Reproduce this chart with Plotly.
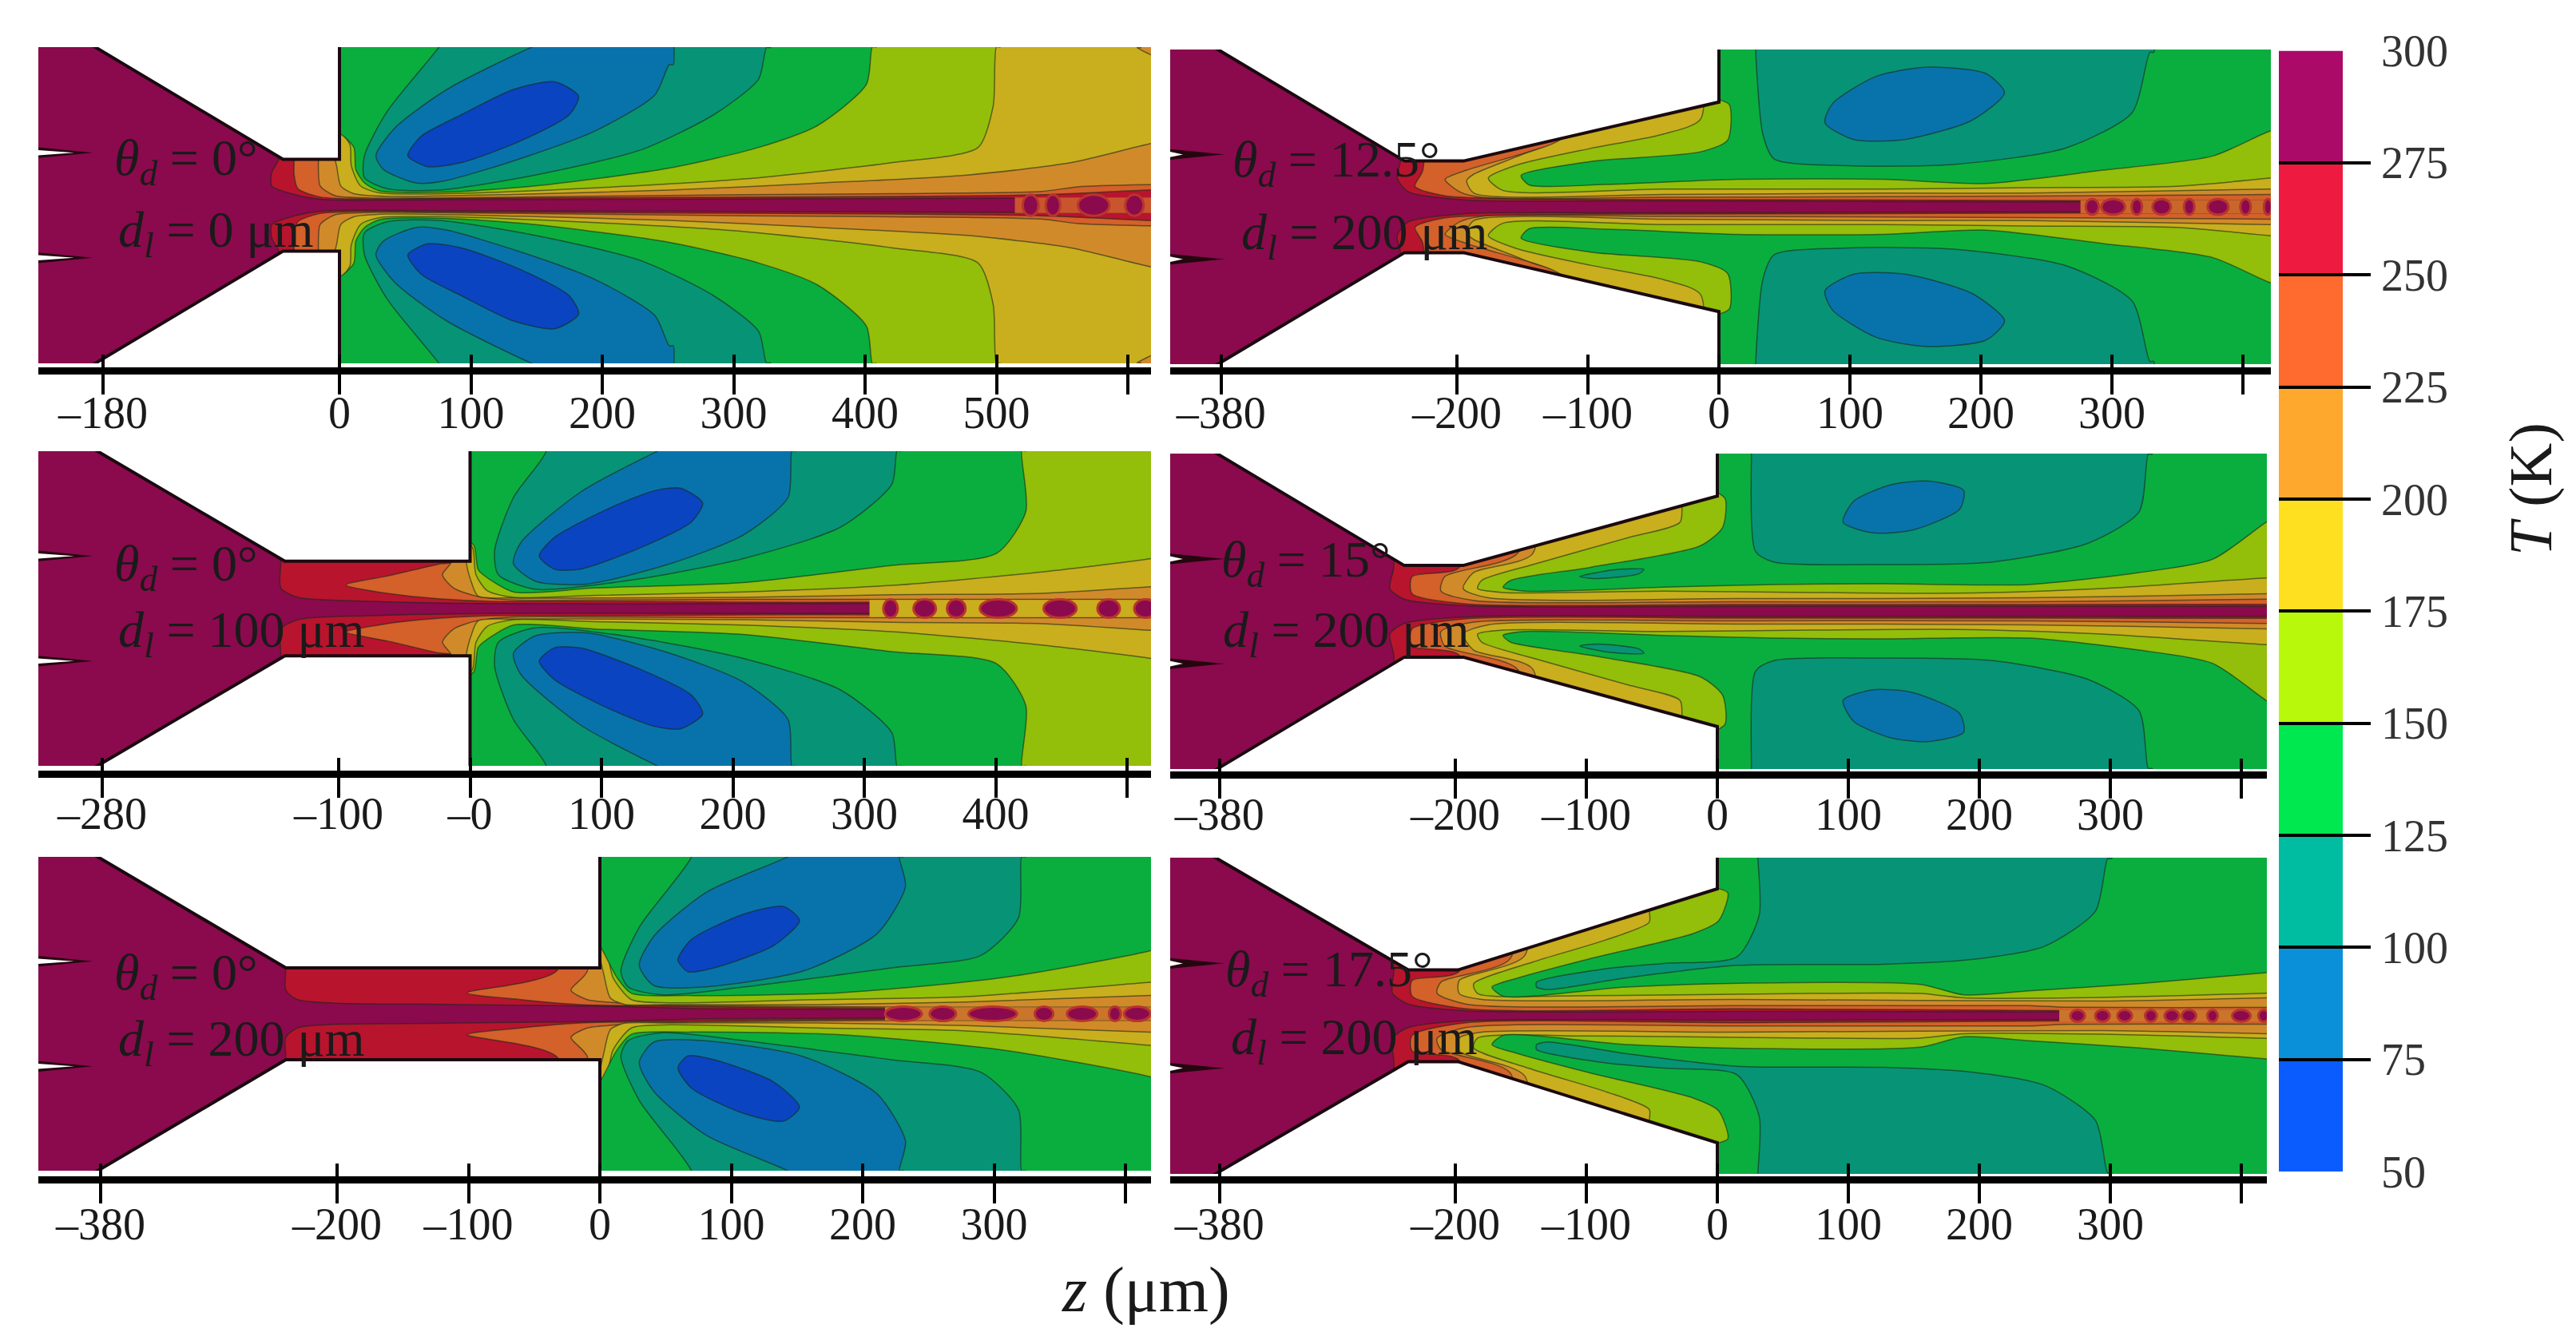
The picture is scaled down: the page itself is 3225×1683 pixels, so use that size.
#!/usr/bin/env python3
'''Temperature contours for six nozzle geometries, T (K) against z (um).'''

import plotly.graph_objects as go

W = 3225
H = 1683
SERIF = 'Liberation Serif'
PURPLE = '#8A0A4D'

T_LEVELS = [50, 75, 100, 125, 150, 175, 200, 225, 250, 275, 300]
BAR_COLORS = ['#0A5CFF', '#0A90D8', '#00BCA0', '#00E850', '#B8F80A',
              '#FFE020', '#FFA82E', '#FF6A2E', '#EE1A40', '#AB0A68']
# panels are shaded darker than the colour bar, hot to cold
BAND_COLORS = ['#B8142E', '#D4602A', '#D18A2A', '#C9AE1E', '#93BE0A',
               '#0AAE3F', '#079376', '#0873AB', '#0A44C0']

# each contour is (z, r) in um for the upper half, the lower half is its mirror
P1_WALL = [(-202, 130), (-43, 35), (0, 35), (0, 130)]
P1_275 = [(-46, 130), (-46, 35.6), (-51.5, 25), (-51.5, 14.7), (-35, 8.4), (-14, 4.5), (13.6, 3.8), (81.5, 4.2), (251, 4.6), (534, 5.5), (640, 5.5), (640, 130)]
P1_250 = [(-34.5, 130), (-34.5, 35.6), (-34.5, 23), (-31.7, 12.6), (-14.7, 6.3), (13.6, 4.8), (81.5, 5.2), (251, 5.9), (421, 6.7), (534, 8), (640, 12.6), (640, 130)]
P1_225 = [(-16, 130), (-16, 35.6), (-16, 25), (-14.7, 14.7), (-3.4, 7.3), (25, 5.5), (138, 6.3), (308, 8), (421, 8.8), (534, 10.5), (562, 14), (618, 15.7), (640, 16), (640, 130)]
P1_200 = [(-3.4, 130), (-3.4, 35.6), (-2, 29), (1, 14.7), (10.8, 8.8), (36, 6.7), (138, 8.4), (251, 11.5), (364, 16.8), (478, 23), (557, 32.5), (618, 47), (640, 50), (640, 100), (610, 120), (610, 130)]
P1_175 = [(-12, 130), (-12, 56), (1, 55), (8, 46), (9, 30), (16, 14.7), (30.5, 9.4), (81.5, 8.8), (194.7, 13.2), (308, 20), (421, 32.5), (486, 44), (497.5, 75.5), (503, 120.5), (503, 130)]
P1_150 = [(-9, 130), (-9, 56), (1, 54), (11, 44), (12.5, 27), (19, 17), (30.5, 10.9), (81.5, 10), (149, 14.7), (251, 28.3), (319, 44), (364, 60.8), (401, 92), (408.6, 120.5), (408.6, 130)]
P1_125 = [(81.5, 130), (75.8, 120.5), (36, 71), (19, 37.7), (19, 21), (36, 12.6), (75.8, 11.5), (149, 23), (229, 42), (285, 69), (319, 96), (328, 120), (328, 130)]
P1_100 = [(172, 130), (146.6, 120.5), (81.5, 88), (42, 58.7), (27.7, 37.7), (33.4, 27.3), (59, 16.8), (81.5, 18.9), (138, 35.6), (194.7, 56.6), (240, 83.9), (254, 107), (254, 130)]
P1_75 = [(164, 94), (182, 83), (175, 69), (138, 49), (93, 32.5), (67, 29.4), (52, 37.7), (62, 52.4), (93, 69), (132, 88), (164, 94)]
P1_GAP = (514, 6, '#C9552C')
P1_DROP_Z = [526, 543, 574, 605]
P1_DROP_D = [12, 11, 24, 14]

P2_WALL = [(-399, 130), (-240, 35), (-195, 35), (0, 80), (0, 130)]
P2_275 = [(-243, 130), (-243, 35.6), (-245.6, 22), (-237, 11.5), (-192.6, 5.2), (-70, 4.6), (276, 3.8), (440, 3.8), (440, 130)]
P2_250 = [(-226, 130), (-226, 28), (-232, 15.7), (-209, 8.4), (-98, 5.7), (70, 5.4), (276, 4.8), (440, 4.8), (440, 130)]
P2_225 = [(-120, 130), (-120, 52), (-142, 43), (-192.6, 28), (-209, 21), (-198, 11.5), (-181, 7.3), (-42, 7.3), (125.6, 7.8), (265, 8.4), (421, 9.4), (440, 9.4), (440, 130)]
P2_200 = [(-117, 130), (-117, 55), (-150, 40), (-187, 25), (-192.6, 20), (-187, 10.5), (-42, 9.4), (125.6, 10.5), (237, 10.5), (420, 13.6), (440, 14), (440, 130)]
P2_175 = [(-14, 130), (-14, 67), (-42, 55.6), (-98, 44.6), (-154, 32), (-176, 22), (-165, 12.6), (-42, 13.6), (125.6, 13.6), (237, 14.7), (349, 15.7), (420, 22), (440, 24), (440, 130)]
P2_150 = [(-5, 130), (-5, 85), (8, 78), (6.7, 51), (-14, 42), (-98, 34.6), (-151, 24), (-145, 16.8), (-86.5, 17), (14, 21), (125.6, 21), (204, 17.8), (293, 28), (377, 38.8), (420, 57.6), (450, 65), (450, 130)]
P2_125 = [(28, 130), (28, 120), (33.5, 55.5), (42, 36.7), (98, 31.4), (181, 32.5), (265, 45), (315.5, 72), (332, 118), (332, 130)]
P2_100 = [(159, 106.7), (204, 101.7), (218, 87), (193, 66), (142, 51.4), (103, 51.4), (81, 64), (86.5, 78.6), (120, 99.6), (159, 106.7)]
P2_GAP = (276, 5, '#C9672B')
P2_DROP_Z = [285, 301, 319, 338, 359, 381, 402, 419]
P2_DROP_D = [10, 18, 8, 14, 8, 16, 8, 6]

P3_WALL = [(-301, 130), (-141, 36), (0, 36), (0, 130)]
P3_275 = [(-144, 130), (-144, 36), (-144, 15.6), (-131, 8.5), (-75, 5.5), (16, 3.8), (220, 3.8), (304, 3.8), (530, 3.8), (530, 130)]
P3_250 = [(-12.5, 130), (-12.5, 36), (-24, 33.8), (-63, 24.7), (-94.5, 18), (-63, 11.5), (-24, 7.5), (16, 5.5), (95, 5.5), (220, 4.8), (304, 4.8), (530, 4.8), (530, 130)]
P3_225 = [(-14, 130), (-14, 36), (-21, 25.7), (-12.5, 15.6), (4.5, 9.5), (33, 6.5), (95, 6.5), (208, 7), (304, 7), (530, 7), (530, 130)]
P3_200 = [(-3, 130), (-3, 36), (1, 20), (6, 9.5), (33, 8), (95, 8), (208, 8.5), (321, 10.5), (435, 11.5), (518, 16.6), (530, 17), (530, 130)]
P3_175 = [(-6, 130), (-6, 56), (2, 46), (4.5, 25.7), (13, 13.6), (33, 8.5), (95, 10), (208, 12.6), (321, 17.6), (435, 27.8), (518, 38), (530, 40), (530, 130)]
P3_150 = [(-6, 130), (-6, 56), (3, 48), (6, 30), (10, 25.7), (33, 12.6), (95, 15.6), (208, 19.7), (321, 32.8), (400.7, 42), (423, 74), (423, 120), (423, 130)]
P3_125 = [(55, 130), (58, 120), (33, 84.5), (18.7, 44), (21.5, 25.7), (50, 14.6), (123, 21.7), (208, 38), (282, 62), (321, 94.6), (328, 120), (328, 130)]
P3_100 = [(165, 130), (143, 120), (84, 88.6), (38.5, 50), (33, 34), (50, 20.7), (89, 18.6), (152, 34), (208, 56), (242, 84.5), (248, 120), (248, 130)]
P3_75 = [(160, 91.6), (177, 80.4), (168.6, 66), (129, 46), (84, 30), (64, 30), (52.6, 40), (64, 54), (106, 76.4), (140, 89.6), (160, 91.6)]
P3_GAP = (304, 6.5, '#C9AE1E')
P3_DROP_Z = [320, 346, 370, 402, 449, 486, 514]
P3_DROP_D = [11, 17, 14, 28, 25, 17, 17]

P4_WALL = [(-398, 130), (-239, 35), (-194, 35), (0, 88), (0, 130)]
P4_275 = [(-247, 130), (-247, 33.6), (-250, 17.4), (-239, 9.3), (-191.5, 4.2), (15, 3.8), (230, 3.8), (440, 3.8), (440, 130)]
P4_250 = [(-197, 130), (-197, 33.6), (-233, 26.5), (-233, 13.4), (-191.5, 5.6), (15, 5.2), (230, 5.2), (419, 5.4), (440, 5.4), (440, 130)]
P4_225 = [(-152, 130), (-152, 44.8), (-208, 26.5), (-211, 15.4), (-186, 8.3), (15, 7.3), (238, 7.3), (419, 9.3), (440, 9.5), (440, 130)]
P4_200 = [(-141, 130), (-141, 44), (-186, 29.6), (-194, 17.4), (-175, 10.3), (15, 9.7), (238, 10.3), (419, 13.4), (440, 14), (440, 130)]
P4_175 = [(-27, 130), (-27, 82), (-28.5, 68), (-69, 56), (-141, 35.7), (-180, 23.5), (-183, 17.4), (-164, 14.4), (-41, 15.4), (71, 14.4), (182.6, 13.8), (294, 17.4), (419, 25.5), (440, 26), (440, 130)]
P4_150 = [(-5, 130), (-5, 95), (6, 86), (4, 64), (-13, 50), (-97, 33.6), (-158, 23.5), (-163.6, 18.4), (-147, 15.4), (-41, 18.4), (43, 20.5), (127, 21), (238, 20.5), (322, 29.6), (378, 39.7), (419, 68), (450, 85), (450, 130)]
P4_125 = [(26, 130), (26, 120), (29, 46), (43, 37.7), (127, 35.7), (210.5, 37.7), (283, 52), (322, 76), (332, 120), (332, 130)]
P4_125_LENS = [(-105, 26.5), (-80, 31.6), (-56, 32), (-60, 28.6), (-91, 25), (-105, 26.5)]
P4_100 = [(160, 99.5), (188, 92.4), (185, 78), (149, 62), (118, 60), (96, 68), (104, 84), (132, 96.5), (160, 99.5)]

P5_WALL = [(-400, 130), (-239, 35), (0, 35), (0, 130)]
P5_275 = [(-239, 130), (-239, 35), (-239, 18), (-230, 10.8), (-117, 7.2), (-4, 6), (81, 3.8), (217, 3.4), (440, 3.4), (440, 130)]
P5_250 = [(-32, 130), (-32, 33.6), (-101, 16), (-60, 10.8), (-15, 7), (41, 6), (211, 4.2), (440, 4.2), (440, 130)]
P5_225 = [(-9.6, 130), (-9.6, 32.4), (-22, 18), (-9.6, 10.8), (13, 8.4), (52.6, 6.6), (166, 5.5), (260, 5), (440, 5), (440, 130)]
P5_200 = [(-1, 130), (-1, 50), (3, 30), (8, 12), (18.7, 7.2), (52.6, 7), (166, 7), (279, 9), (419, 14), (440, 14), (440, 130)]
P5_175 = [(-5, 130), (-5, 56), (4.5, 49.3), (10, 27.6), (24, 10.8), (52.6, 8.4), (166, 10.8), (279, 13), (419, 24), (440, 25), (440, 130)]
P5_150 = [(-5, 130), (-5, 56), (0, 51.7), (13, 27.6), (24, 15.6), (69.6, 13.9), (183, 16), (307, 27.6), (419, 48), (449, 56.5), (449, 130)]
P5_125 = [(69.6, 130), (69.6, 119.5), (30, 66), (16, 32.5), (21.5, 20.4), (47, 14.4), (109, 20.4), (222, 35), (290, 44.5), (318.6, 73), (324, 119.5), (324, 130)]
P5_100 = [(160, 130), (143, 119.5), (81, 92.5), (41, 59), (30, 37), (41, 21.6), (78, 20.4), (154.5, 32.5), (211, 61), (232.6, 97), (231, 119.5), (231, 130)]
P5_75 = [(140, 81.7), (152, 71), (132, 51.7), (87, 35), (67, 32), (59.4, 41), (69.6, 56.5), (109, 75.7), (140, 81.7)]
P5_GAP = (217, 5, '#C9752B')
P5_DROP_Z = [231, 261, 299, 338, 367, 392, 409]
P5_DROP_D = [28, 20, 37, 14, 23, 9, 20]

P6_WALL = [(-399, 130), (-236, 35), (-198, 35), (0, 97), (0, 130)]
P6_275 = [(-247, 130), (-247, 34), (-248, 17.3), (-236, 9), (-191.5, 3.8), (15, 3.4), (261, 3), (440, 3), (440, 130)]
P6_250 = [(-197, 130), (-197, 34), (-233, 27), (-233, 15), (-191.5, 5.3), (15, 5.3), (261, 4), (440, 4), (440, 130)]
P6_225 = [(-158, 130), (-158, 43.7), (-211, 25.7), (-214, 17.3), (-191.5, 8.9), (15, 7.7), (238, 7.7), (266, 6.5), (440, 6.5), (440, 130)]
P6_200 = [(-147, 130), (-147, 46), (-197, 27), (-197, 17), (-180, 12.5), (15, 12.5), (294, 11.3), (419, 13.7), (440, 14), (440, 130)]
P6_175 = [(-52, 130), (-52, 81), (-52, 71.4), (-85, 58), (-141, 41), (-186, 24.5), (-183, 17), (-97, 15.4), (71, 17), (155, 17), (188, 13.7), (294, 14), (419, 17.3), (440, 18), (440, 130)]
P6_150 = [(-5, 130), (-5, 100), (8, 94), (1, 72.6), (-18, 63), (-96.6, 43.8), (-152, 29), (-172, 22), (-163.6, 15), (-69, 22), (26, 25), (155, 24), (188, 16), (238, 19), (322, 24.5), (419, 33), (450, 35), (450, 130)]
P6_125 = [(31, 130), (31, 120), (32, 77), (15, 45), (-41, 40), (-85, 36), (-138, 25.7), (-138, 22), (-130, 20), (-69, 29), (15, 38.5), (127, 39.4), (194, 43), (249.6, 53), (288.7, 80), (301, 120), (301, 130)]
P6_GAP = (261, 4.5, '#C9752B')
P6_DROP_Z = [275, 294, 311, 331, 347, 360, 378, 400, 417]
P6_DROP_D = [11, 11, 11, 9, 11, 11, 8, 14, 8]

TICKS_P1 = [-180, 0, 100, 200, 300, 400, 500, 600]
LABELS_P1 = ['–180', '0', '100', '200', '300', '400', '500', '']
TICKS_P3 = [-280, -100, 0, 100, 200, 300, 400, 500]
LABELS_P3 = ['–280', '–100', '–0', '100', '200', '300', '400', '']
TICKS_LONG = [-380, -200, -100, 0, 100, 200, 300, 400]
LABELS_LONG = ['–380', '–200', '–100', '0', '100', '200', '300', '']

PANELS = [
    dict(box=(48, 1441, 59, 455, 464), zero=425, scale=1.645, ticks=TICKS_P1, labels=LABELS_P1, standoff=-25,
         wall=P1_WALL, bands=[P1_275, P1_250, P1_225, P1_200, P1_175, P1_150, P1_125, P1_100, P1_75],
         gap=P1_GAP, drop_z=P1_DROP_Z, drop_d=P1_DROP_D, drop_h=16, slot=45,
         theta='0°', dl='0', theta_at=(141, 202), dl_at=(146, 292)),
    dict(box=(1465, 2843, 62, 456, 464), zero=2152, scale=1.64, ticks=TICKS_LONG, labels=LABELS_LONG, standoff=-25,
         wall=P2_WALL, bands=[P2_275, P2_250, P2_225, P2_200, P2_175, P2_150, P2_125, P2_100],
         gap=P2_GAP, drop_z=P2_DROP_Z, drop_d=P2_DROP_D, drop_h=12, slot=16,
         theta='12.5°', dl='200', theta_at=(1541, 204), dl_at=(1552, 295)),
    dict(box=(48, 1441, 565, 959, 969), zero=588.5, scale=1.645, ticks=TICKS_P3, labels=LABELS_P3, standoff=-28,
         wall=P3_WALL, bands=[P3_275, P3_250, P3_225, P3_200, P3_175, P3_150, P3_125, P3_100, P3_75],
         gap=P3_GAP, drop_z=P3_DROP_Z, drop_d=P3_DROP_D, drop_h=14, slot=45,
         theta='0°', dl='100', theta_at=(141, 710), dl_at=(146, 793)),
    dict(box=(1465, 2838, 568, 963, 970), zero=2150, scale=1.64, ticks=TICKS_LONG, labels=LABELS_LONG, standoff=-28,
         wall=P4_WALL, bands=[P4_275, P4_250, P4_225, P4_200, P4_175, P4_150, P4_125, P4_100],
         extra=[P4_125_LENS], slot=16,
         theta='15°', dl='200', theta_at=(1527, 705), dl_at=(1529, 793)),
    dict(box=(48, 1441, 1073, 1466, 1477), zero=751, scale=1.645, ticks=TICKS_LONG, labels=LABELS_LONG, standoff=-22,
         wall=P5_WALL, bands=[P5_275, P5_250, P5_225, P5_200, P5_175, P5_150, P5_125, P5_100, P5_75],
         gap=P5_GAP, drop_z=P5_DROP_Z, drop_d=P5_DROP_D, drop_h=11, slot=45,
         theta='0°', dl='200', theta_at=(141, 1222), dl_at=(146, 1305)),
    dict(box=(1465, 2838, 1074, 1470, 1477), zero=2150, scale=1.64, ticks=TICKS_LONG, labels=LABELS_LONG, standoff=-22,
         wall=P6_WALL, bands=[P6_275, P6_250, P6_225, P6_200, P6_175, P6_150, P6_125],
         gap=P6_GAP, drop_z=P6_DROP_Z, drop_d=P6_DROP_D, drop_h=9, slot=16,
         theta='17.5°', dl='200', theta_at=(1532, 1218), dl_at=(1539, 1303)),
]


def squared(points):
    '''hold the spline flat into the corner where a band leaves the panel'''
    z, r = points[-2]
    return points[:-2] + [(z - 3, r)] + points[-2:]


def filled(points, color, x, y, sign=1, line=None, shape='spline'):
    '''closed polygon from (z, r) pairs'''
    return go.Scatter(
        x=[p[0] for p in points], y=[sign * p[1] for p in points],
        xaxis=x, yaxis=y, mode='lines', fill='toself', fillcolor=color,
        line=dict(shape=shape, smoothing=0.7, color=line or color, width=1.5 if line else 0),
        hoverinfo='skip', showlegend=False)


def wall_line(points, x, y, sign):
    return go.Scatter(
        x=[p[0] for p in points], y=[sign * p[1] for p in points],
        xaxis=x, yaxis=y, mode='lines', line=dict(color='#1a0a10', width=4),
        hoverinfo='skip', showlegend=False)


def add_panel(fig, i, p):
    n = '' if i == 0 else str(i + 1)
    x, y = 'x' + n, 'y' + n
    left, right, top, bottom, axis_y = p['box']
    zmin = (left - p['zero']) / p['scale']
    zmax = (right - p['zero']) / p['scale']
    rmax = (bottom - top) / 2 / p['scale']
    fig.add_trace(filled([(-500, -130), (700, -130), (700, 130), (-500, 130)], PURPLE, x, y, shape='linear'))
    edge = 'rgba(25,40,25,0.6)'
    for band, color in zip(p['bands'], BAND_COLORS):
        if band[-1][1] == 130:
            band = squared(band)
        for sign in (1, -1):
            fig.add_trace(filled(band, color, x, y, sign, edge))
    for lens in p.get('extra', []):
        for sign in (1, -1):
            fig.add_trace(filled(lens, BAND_COLORS[6], x, y, sign, edge))
    if 'gap' in p:
        start, half, color = p['gap']
        fig.add_trace(filled([(start, -half), (700, -half), (700, half), (start, half)], color, x, y, shape='linear'))
        for z, d in zip(p['drop_z'], p['drop_d']):
            fig.add_shape(type='circle', xref=x, yref=y, x0=z - d / 2, x1=z + d / 2,
                          y0=-p['drop_h'] / 2, y1=p['drop_h'] / 2, fillcolor=PURPLE,
                          line=dict(color='#B8342E', width=3))
    for sign in (1, -1):
        fig.add_trace(filled(p['wall'], 'white', x, y, sign, shape='linear'))
        fig.add_trace(wall_line(p['wall'], x, y, sign))
        # injection slots at the left edge
        dark = [(zmin, 44), (zmin + 68 / p['scale'], 40), (zmin, 36)]
        pale = [(zmin, 42), (zmin + p['slot'] / p['scale'], 40), (zmin, 38)]
        fig.add_trace(filled(dark, '#24060f', x, y, sign, shape='linear'))
        fig.add_trace(filled(pale, 'white', x, y, sign, shape='linear'))

    base = dict(domain=[left / W, right / W], range=[zmin, zmax], anchor='free',
                position=1 - axis_y / H, tickmode='array', tickvals=p['ticks'],
                showgrid=False, zeroline=False, tickcolor='black', tickwidth=3.5,
                automargin=False)
    fig.layout['xaxis' + n] = dict(
        base, ticktext=p['labels'], ticks='outside', ticklen=25, showline=True,
        linecolor='black', linewidth=9, ticklabelstandoff=p['standoff'],
        tickfont=dict(family=SERIF, size=56, color='#1a1a1a'))
    fig.layout['yaxis' + n] = dict(
        domain=[1 - bottom / H, 1 - top / H], range=[-rmax, rmax], visible=False,
        anchor=x, fixedrange=True, automargin=False)
    # tick stubs above the axis line, on an axis of their own
    m = str(i + 7)
    fig.layout['xaxis' + m] = dict(base, overlaying=x, ticks='inside', ticklen=20,
                                   showticklabels=False, showline=False)
    fig.add_trace(go.Scatter(x=p['ticks'], y=[0] * len(p['ticks']), xaxis='x' + m, yaxis=y,
                             mode='markers', marker=dict(opacity=0), hoverinfo='skip',
                             showlegend=False))
    for at, text in ((p['theta_at'], '<i>θ<sub>d</sub></i> = ' + p['theta']),
                     (p['dl_at'], '<i>d<sub>l</sub></i> = ' + p['dl'] + ' μm')):
        fig.add_annotation(x=at[0] / W, y=1 - at[1] / H, xref='paper', yref='paper',
                           xanchor='left', yanchor='middle', text=text, showarrow=False,
                           font=dict(family=SERIF, size=64, color='#1a1a1a'))


def add_colorbar(fig):
    fig.add_trace(go.Bar(
        x=[0] * len(BAR_COLORS), y=[b - a for a, b in zip(T_LEVELS, T_LEVELS[1:])],
        base=T_LEVELS[:-1], width=1, marker=dict(color=BAR_COLORS, line=dict(width=0)),
        xaxis='x13', yaxis='y13', hoverinfo='skip', showlegend=False))
    fig.layout['xaxis13'] = dict(domain=[2853 / W, 2968 / W], range=[-0.5, 0.9375],
                                 visible=False, anchor='y13', automargin=False)
    fig.layout['yaxis13'] = dict(
        domain=[1 - 1467 / H, 1 - 63.5 / H], range=[50, 300], side='right', anchor='x13',
        tickmode='array', tickvals=T_LEVELS, ticks='inside', ticklen=115, tickwidth=3.5,
        tickcolor='black', showgrid=False, zeroline=False, ticklabelstandoff=12,
        automargin=False, tickfont=dict(family=SERIF, size=56, color='#333'))


def main():
    fig = go.Figure()
    for i, p in enumerate(PANELS):
        add_panel(fig, i, p)
    add_colorbar(fig)
    fig.add_annotation(x=1434 / W, y=1 - 1615 / H, xref='paper', yref='paper', showarrow=False,
                       xanchor='center', yanchor='middle', text='<i>z</i> (μm)',
                       font=dict(family=SERIF, size=80, color='#1a1a1a'))
    fig.add_annotation(x=3168 / W, y=1 - 613 / H, xref='paper', yref='paper', showarrow=False,
                       xanchor='center', yanchor='middle', textangle=-90, text='<i>T</i> (K)',
                       font=dict(family=SERIF, size=76, color='#1a1a1a'))
    fig.update_layout(width=W, height=H, margin=dict(l=0, r=0, t=0, b=0), autosize=False,
                      paper_bgcolor='white', plot_bgcolor='white', showlegend=False)
    fig.write_html('out.html', config=dict(displayModeBar=False),
                   post_script="document.body.style.margin='0';")


if __name__ == '__main__':
    main()
